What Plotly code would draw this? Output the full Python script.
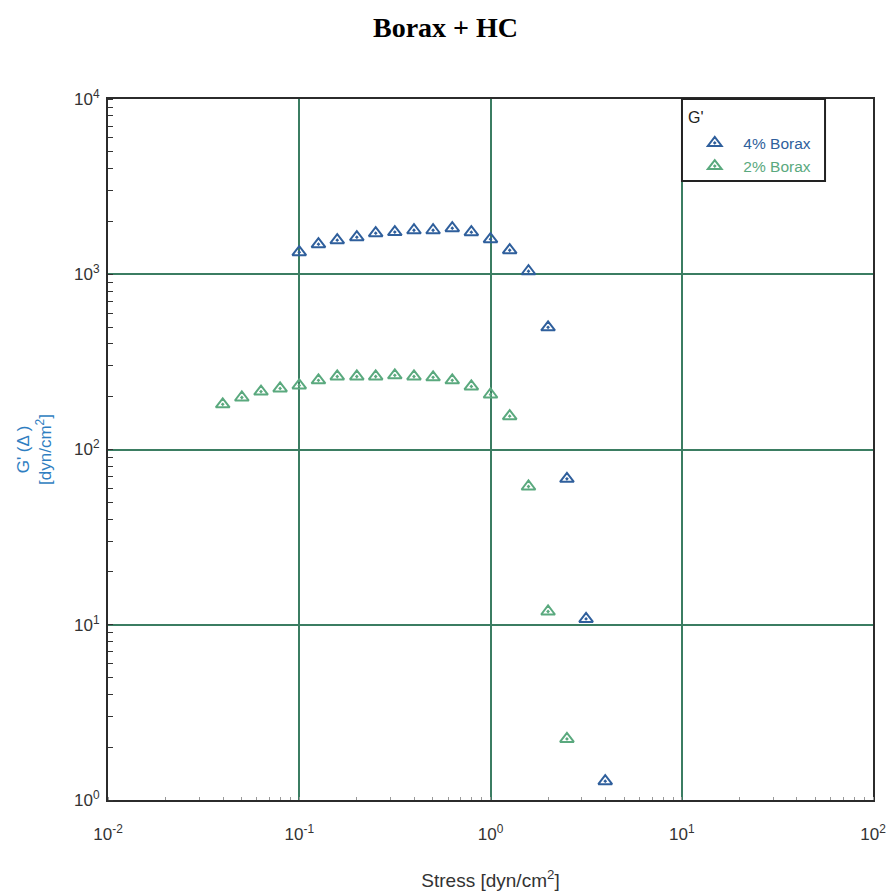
import plotly.graph_objects as go

# Data
stress_4 = [0.1, 0.126, 0.158, 0.2, 0.251, 0.316, 0.398, 0.501, 0.631, 0.794, 1.0, 1.26, 1.58, 2.0, 2.51, 3.16, 3.98]
gp_4 = [1336, 1484, 1565, 1627, 1715, 1740, 1783, 1783, 1832, 1738, 1585, 1371, 1040, 498, 68, 10.8, 1.28]

stress_2 = [0.0398, 0.0501, 0.0631, 0.0794, 0.1, 0.126, 0.158, 0.2, 0.251, 0.316, 0.398, 0.501, 0.631, 0.794, 1.0, 1.26, 1.58, 2.0, 2.51]
gp_2 = [181, 198, 214, 223, 232, 248, 261, 261, 261, 265, 261, 258, 248, 229, 206, 155, 61.5, 11.9, 2.23]

x_tickvals = [0.01, 0.1, 1, 10, 100]
x_ticktext = ["10<sup>-2</sup>", "10<sup>-1</sup>", "10<sup>0</sup>", "10<sup>1</sup>", "10<sup>2</sup>"]
y_tickvals = [1, 10, 100, 1000, 10000]
y_ticktext = ["10<sup>0</sup>", "10<sup>1</sup>", "10<sup>2</sup>", "10<sup>3</sup>", "10<sup>4</sup>"]

BLUE = "#2f5f9c"
GREEN = "#5aa97e"
GRID = "#3b7d62"
FRAME = "#2b2b2b"
SANS = "Liberation Sans, Arial, sans-serif"

fig = go.Figure()
fig.add_trace(go.Scatter(
    x=stress_4, y=gp_4, mode="markers",
    name='<span style="color:' + BLUE + '">\u00a0\u00a04% Borax</span>',
    marker=dict(symbol="triangle-up-open-dot", size=12, color=BLUE, line=dict(width=2, color=BLUE)),
))
fig.add_trace(go.Scatter(
    x=stress_2, y=gp_2, mode="markers",
    name='<span style="color:' + GREEN + '">\u00a0\u00a02% Borax</span>',
    marker=dict(symbol="triangle-up-open-dot", size=12, color=GREEN, line=dict(width=2, color=GREEN)),
))

axis_font = dict(family=SANS, size=17, color="#333333")

# legend frame drawn as a shape in paper coordinates
fig.add_shape(type="rect", xref="paper", yref="paper",
              x0=0.7503, x1=0.9373, y0=0.883, y1=1.0,
              line=dict(color="#222222", width=2), fillcolor="white", layer="above")
fig.add_annotation(text="G'", xref="paper", yref="paper", x=0.7555, y=0.973,
                   xanchor="left", yanchor="middle", showarrow=False,
                   font=dict(family=SANS, size=16, color="#222222"))

fig.update_layout(
    width=891, height=896,
    margin=dict(l=108, r=18, t=99, b=96),
    paper_bgcolor="white", plot_bgcolor="white",
    title=dict(text="<b>Borax + HC</b>", x=0.5, xanchor="center", y=0.97, yanchor="middle",
               font=dict(family="Liberation Serif, Times New Roman, serif", size=28, color="black")),
    showlegend=True,
    legend=dict(
        x=0.767, xanchor="left", y=0.961, yanchor="top",
        bgcolor="rgba(0,0,0,0)", borderwidth=0,
        font=dict(family=SANS, size=15.5),
        itemsizing="constant", tracegroupgap=0,
    ),
    xaxis=dict(
        type="log", range=[-2, 2], automargin=False,
        tickmode="array", tickvals=x_tickvals, ticktext=x_ticktext,
        tickfont=axis_font, ticks="", ticklabelstandoff=18,
        showgrid=True, gridcolor=GRID, gridwidth=2,
        showline=True, linecolor=FRAME, linewidth=2, mirror=True,
        minor=dict(ticks="inside", ticklen=3, tickcolor="#999999", showgrid=False, dtick="D1"),
        title=dict(text="Stress [dyn/cm<sup>2</sup>]", font=dict(family=SANS, size=19, color="#333333"), standoff=30),
        zeroline=False,
    ),
    yaxis=dict(
        type="log", range=[0, 4], automargin=False,
        tickmode="array", tickvals=y_tickvals, ticktext=y_ticktext,
        tickfont=axis_font, ticks="", ticklabelstandoff=3,
        showgrid=True, gridcolor=GRID, gridwidth=2,
        showline=True, linecolor=FRAME, linewidth=2, mirror=True,
        minor=dict(ticks="inside", ticklen=5, tickcolor="#333333", showgrid=False, dtick="D1"),
        title=dict(text="G' (\u0394 )<br>[dyn/cm<sup>2</sup>]", font=dict(family=SANS, size=17, color="#2f7ec1"), standoff=18),
        zeroline=False,
    ),
)

fig.write_html("out.html")
